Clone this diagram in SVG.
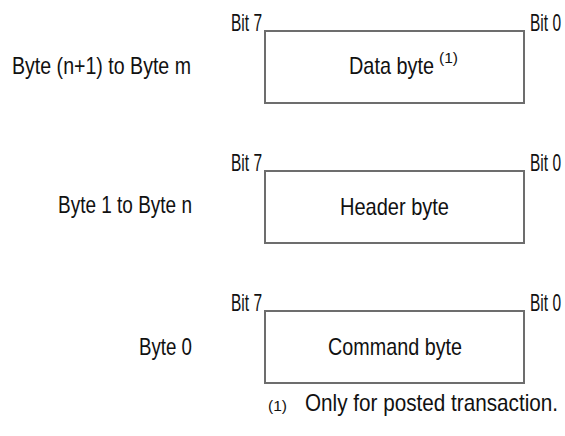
<svg xmlns="http://www.w3.org/2000/svg" width="565" height="436" viewBox="0 0 565 436">
<style>
text{font-family:"Liberation Sans",Arial,sans-serif;font-size:24px;fill:#111}
.box{fill:#fff;stroke:#6d6d6d;stroke-width:2}
.sup{font-size:15px}
</style>
<rect width="565" height="436" fill="#fff"/>
<g id="row-data">
<text x="12" y="74" textLength="179" lengthAdjust="spacingAndGlyphs">Byte (n+1) to Byte m</text>
<rect class="box" x="265" y="31" width="259" height="72"/>
<text x="231" y="31" textLength="31" lengthAdjust="spacingAndGlyphs">Bit 7</text>
<text x="530" y="31" textLength="31" lengthAdjust="spacingAndGlyphs">Bit 0</text>
<text x="349" y="74" textLength="85" lengthAdjust="spacingAndGlyphs">Data byte</text><text x="439" y="63" class="sup" textLength="19" lengthAdjust="spacingAndGlyphs">(1)</text>
</g>
<g id="row-header">
<text x="58" y="213" textLength="134" lengthAdjust="spacingAndGlyphs">Byte 1 to Byte n</text>
<rect class="box" x="265" y="171" width="259" height="72"/>
<text x="231" y="171" textLength="31" lengthAdjust="spacingAndGlyphs">Bit 7</text>
<text x="530" y="171" textLength="31" lengthAdjust="spacingAndGlyphs">Bit 0</text>
<text x="340" y="215" textLength="109" lengthAdjust="spacingAndGlyphs">Header byte</text>
</g>
<g id="row-command">
<text x="139" y="355" textLength="53" lengthAdjust="spacingAndGlyphs">Byte 0</text>
<rect class="box" x="265" y="311" width="259" height="72"/>
<text x="231" y="311" textLength="31" lengthAdjust="spacingAndGlyphs">Bit 7</text>
<text x="530" y="311" textLength="31" lengthAdjust="spacingAndGlyphs">Bit 0</text>
<text x="328" y="355" textLength="134" lengthAdjust="spacingAndGlyphs">Command byte</text>
</g>
<g id="footnote">
<text x="268" y="411" class="sup" textLength="19" lengthAdjust="spacingAndGlyphs">(1)</text>
<text x="305" y="411" textLength="253" lengthAdjust="spacingAndGlyphs">Only for posted transaction.</text>
</g>
<g id="connectors"/>
</svg>
